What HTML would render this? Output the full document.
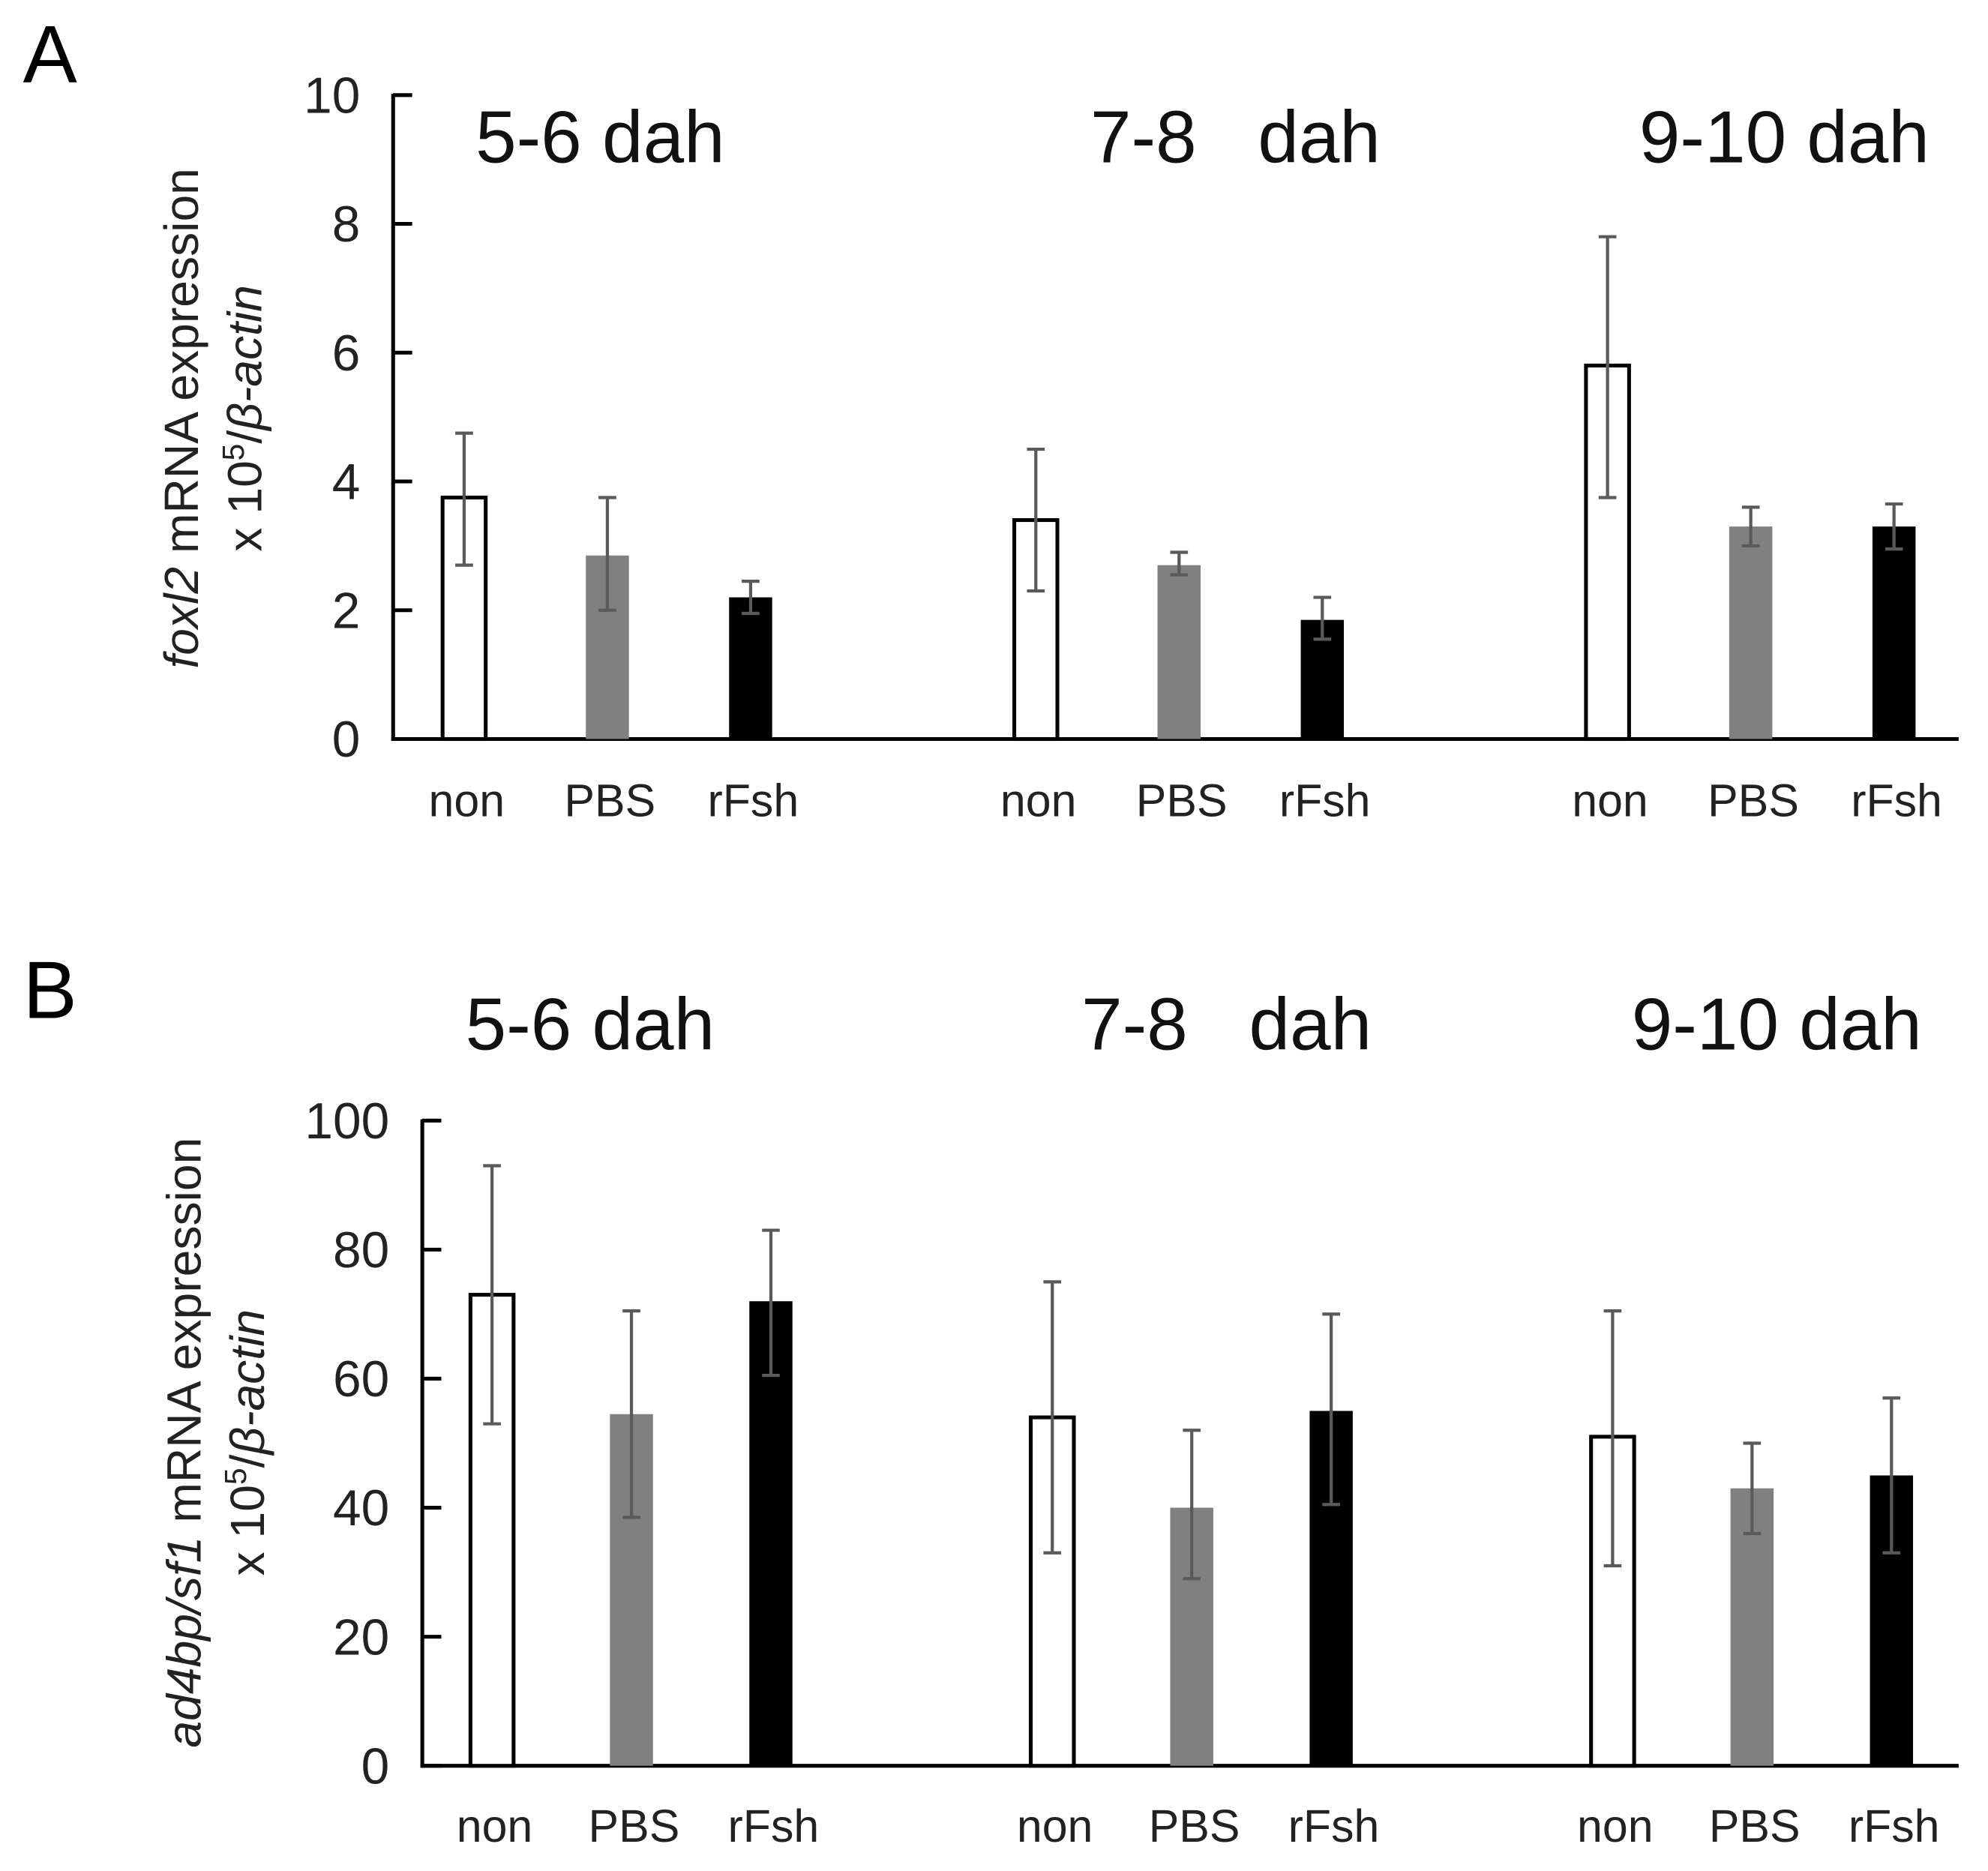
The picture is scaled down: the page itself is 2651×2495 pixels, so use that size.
<!DOCTYPE html>
<html><head><meta charset="utf-8"><style>
html,body{margin:0;padding:0;background:#fff;}
svg{display:block;font-family:"Liberation Sans",Arial,sans-serif;}
</style></head><body>
<svg id="chart" width="2651" height="2495" viewBox="0 0 1568 1476" xmlns="http://www.w3.org/2000/svg">
<rect width="1568" height="1476" fill="#fff"/>
<text x="18" y="65" font-size="64">A</text>
<text x="18" y="803" font-size="64">B</text>
<g id="pa"></g>
<g id="pb"></g>
</svg>
<script>
const groups = ["5-6 dah", "7-8   dah", "9-10 dah"];
const treatments = ["non", "PBS", "rFsh"];
const aTicks = [0, 2, 4, 6, 8, 10];
const aMeans = [3.75, 2.85, 2.2, 3.4, 2.7, 1.85, 5.8, 3.3, 3.3];
const aLow = [2.7, 2.0, 1.95, 2.3, 2.55, 1.55, 3.75, 3.0, 2.95];
const aHigh = [4.75, 3.75, 2.45, 4.5, 2.9, 2.2, 7.8, 3.6, 3.65];
const bTicks = [0, 20, 40, 60, 80, 100];
const bMeans = [73, 54.5, 72, 54, 40, 55, 51, 43, 45];
const bLow = [53, 38.5, 60.5, 33, 29, 40.5, 31, 36, 33];
const bHigh = [93, 70.5, 83, 75, 52, 70, 70.5, 50, 57];

const NS = "http://www.w3.org/2000/svg";
function mk(parent, tag, attrs, text) {
  const el = document.createElementNS(NS, tag);
  for (const k in attrs) el.setAttribute(k, attrs[k]);
  if (text !== undefined) el.textContent = text;
  parent.appendChild(el);
  return el;
}
const fills = ["#fff", "#808080", "#000"];

function panel(g, cfg) {
  const yScale = v => cfg.y0 - (v - cfg.min) / (cfg.max - cfg.min) * (cfg.y0 - cfg.yTop);
  const xScale = i => cfg.firstX + Math.floor(i / 3) * cfg.groupStep + (i % 3) * cfg.barStep;
  const ya = mk(g, "line", {x1: cfg.ax, y1: cfg.yTop - 1, x2: cfg.ax, y2: cfg.y0 + 1.5, stroke: "#000", "stroke-width": 3});
  
  
  const xa = mk(g, "line", {x1: cfg.ax - 1.5, y1: cfg.y0, x2: 1545, y2: cfg.y0, stroke: "#000", "stroke-width": 3});
  
  
  cfg.ticks.forEach(t => {
    const y = yScale(t);
    const tl = mk(g, "line", {x1: cfg.ax, y1: y, x2: cfg.ax + 15, y2: y, stroke: "#000", "stroke-width": 3});
    
    
    const tx = mk(g, "text", {x: cfg.ax - 26, y: y + 14, "font-size": 40, "text-anchor": "end", fill: "#222"}, String(t));
    
    
  });
  cfg.means.forEach((m, i) => {
    const cx = xScale(i);
    const f = fills[i % 3];
    const yt = yScale(m);
    const r = mk(g, "rect", {x: cx - 17, y: yt, width: 34, height: cfg.y0 - yt, fill: f,
      stroke: i % 3 === 0 ? "#000" : "none", "stroke-width": 3});
    
    
    const yl = yScale(cfg.low[i]), yh = yScale(cfg.high[i]);
    const eb = mk(g, "path", {d: `M${cx} ${yl}V${yh}M${cx - 7} ${yl}H${cx + 7}M${cx - 7} ${yh}H${cx + 7}`,
      stroke: "#5a5a5a", "stroke-width": 2.5, fill: "none"});
    
    
    const cl = mk(g, "text", {x: cx + 2, y: cfg.catY, "font-size": 36, "text-anchor": "middle", fill: "#222"}, treatments[i % 3]);
    
    
  });
  groups.forEach((gname, j) => {
    const t = mk(g, "text", {x: cfg.titleX[j], y: cfg.titleY, "font-size": 58, fill: "#111", style: "white-space:pre"}, gname);
    
    
  });
  const yt1 = mk(g, "text", {transform: `translate(${cfg.ylx},${cfg.ylc}) rotate(-90)`, "font-size": 38, "text-anchor": "middle", fill: "#222"});
  
  
  mk(yt1, "tspan", {"font-style": "italic"}, cfg.gene);
  mk(yt1, "tspan", {}, " mRNA expression");
  const yt2 = mk(g, "text", {transform: `translate(${cfg.ylx + 50},${cfg.ylc}) rotate(-90)`, "font-size": 38, "text-anchor": "middle", fill: "#222"});
  
  
  mk(yt2, "tspan", {}, "x 10");
  mk(yt2, "tspan", {"font-size": 24, dy: -14}, "5");
  mk(yt2, "tspan", {dy: 14}, "/");
  mk(yt2, "tspan", {"font-style": "italic"}, "β-actin");
}

panel(document.getElementById("pa"), {
  ax: 310, yTop: 75, y0: 583, min: 0, max: 10, ticks: aTicks,
  means: aMeans, low: aLow, high: aHigh,
  firstX: 366, groupStep: 451, barStep: 113, catY: 644,
  titleX: [375, 860, 1293], titleY: 128, gene: "foxl2", ylx: 156, ylc: 330
});
panel(document.getElementById("pb"), {
  ax: 333, yTop: 884, y0: 1393, min: 0, max: 100, ticks: bTicks,
  means: bMeans, low: bLow, high: bHigh,
  firstX: 388, groupStep: 442, barStep: 110, catY: 1453,
  titleX: [367, 853, 1287], titleY: 828, gene: "ad4bp/sf1", ylx: 158, ylc: 1138
});
</script>
</body></html>
